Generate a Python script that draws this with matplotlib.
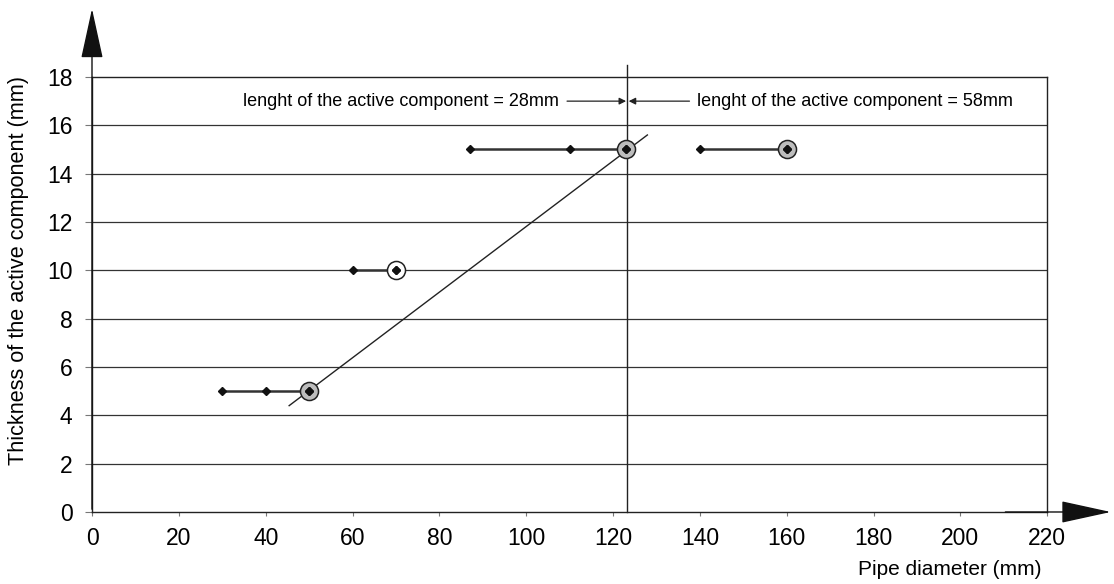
import matplotlib
matplotlib.use("Agg")
import numpy as np
from matplotlib import pyplot as plt

plt.rcParams['font.family'] = ['Liberation Sans', 'DejaVu Sans']

# measured points: (diameter, thickness) grouped by row
row_x = [[30, 40, 50], [60, 70], [87, 110, 123], [140, 160]]
row_y = [5, 10, 15, 15]
# circled points (filled grey or open)
circ_x = [50, 70, 123, 160]
circ_y = [5, 10, 15, 15]
circ_fill = ['#bdbdbd', 'white', '#bdbdbd', '#bdbdbd']
# fitted line end points
fit_x = [45.4, 127.9]
fit_y = [4.4, 15.6]
split_x = 123.3
label_left = "lenght of the active component = 28mm"
label_right = "lenght of the active component = 58mm"

fig = plt.figure(figsize=(11.14, 5.84), dpi=100)
ax = fig.add_axes([0.0826, 0.1233, 0.8575, 0.7449])
ax.set_xlim(0, 220)
ax.set_ylim(0, 18)
ax.set_xticks(np.arange(0, 221, 20))
ax.set_yticks(np.arange(0, 19, 2))
ax.tick_params(axis='y', labelsize=16.5, length=5, width=0.8, color='#777777', pad=9)
ax.tick_params(axis='x', labelsize=16.5, length=3, width=0.8, color='#777777', pad=8)
for y in range(2, 18, 2):
    ax.axhline(y, color='#333333', lw=0.9, zorder=1)
for s in ax.spines.values():
    s.set_linewidth(1.0)
    s.set_color('#222222')

ax.plot(fit_x, fit_y, color='#222222', lw=1.0, zorder=2)
ax.plot([split_x, split_x], [0, 18.5], color='#222222', lw=1.0, zorder=2, clip_on=False)

for xs, y in zip(row_x, row_y):
    ax.plot(xs, [y] * len(xs), color='#333333', lw=1.8, zorder=3)
    ax.plot(xs, [y] * len(xs), 'D', color='#111111', ms=4, zorder=5)
for x, y, f in zip(circ_x, circ_y, circ_fill):
    ax.plot(x, y, 'o', ms=13, mfc=f, mec='#222222', mew=1.1, zorder=4)
    ax.plot(x, y, 'D', color='#111111', ms=4, zorder=5)

# dimension arrows
ax.annotate('', xy=(split_x - 0.3, 17), xytext=(109.4, 17),
            arrowprops=dict(arrowstyle='-|>', color='#222222', lw=0.9, mutation_scale=10,
                            shrinkA=0, shrinkB=0))
ax.annotate('', xy=(split_x + 0.3, 17), xytext=(137.6, 17),
            arrowprops=dict(arrowstyle='-|>', color='#222222', lw=0.9, mutation_scale=10,
                            shrinkA=0, shrinkB=0))
ax.text(34.8, 17, label_left, fontsize=13, va='center', ha='left')
ax.text(139.4, 17, label_right, fontsize=13, va='center', ha='left')

# axis arrows
fig.patches.append(matplotlib.patches.FancyArrowPatch(
    (92 / 1114, 0.1233), (92 / 1114, 1 - 6 / 584), transform=fig.transFigure,
    arrowstyle='-|>,head_length=1.6,head_width=0.35', mutation_scale=20,
    color='#111111', lw=1.0))
fig.patches.append(matplotlib.patches.FancyArrowPatch(
    (0.9, 0.1233), (1113.5 / 1114, 0.1233), transform=fig.transFigure,
    arrowstyle='-|>,head_length=1.6,head_width=0.35', mutation_scale=20,
    color='#111111', lw=1.0))

ax.set_ylabel('Thickness of the active component (mm)', fontsize=15.6)
ax.yaxis.set_label_coords(-0.066, 0.556)
ax.set_xlabel('Pipe diameter (mm)', fontsize=15, loc='right')
ax.xaxis.set_label_coords((1041 - 92) / 955, -0.11)

fig.savefig('out.png', dpi=100)
